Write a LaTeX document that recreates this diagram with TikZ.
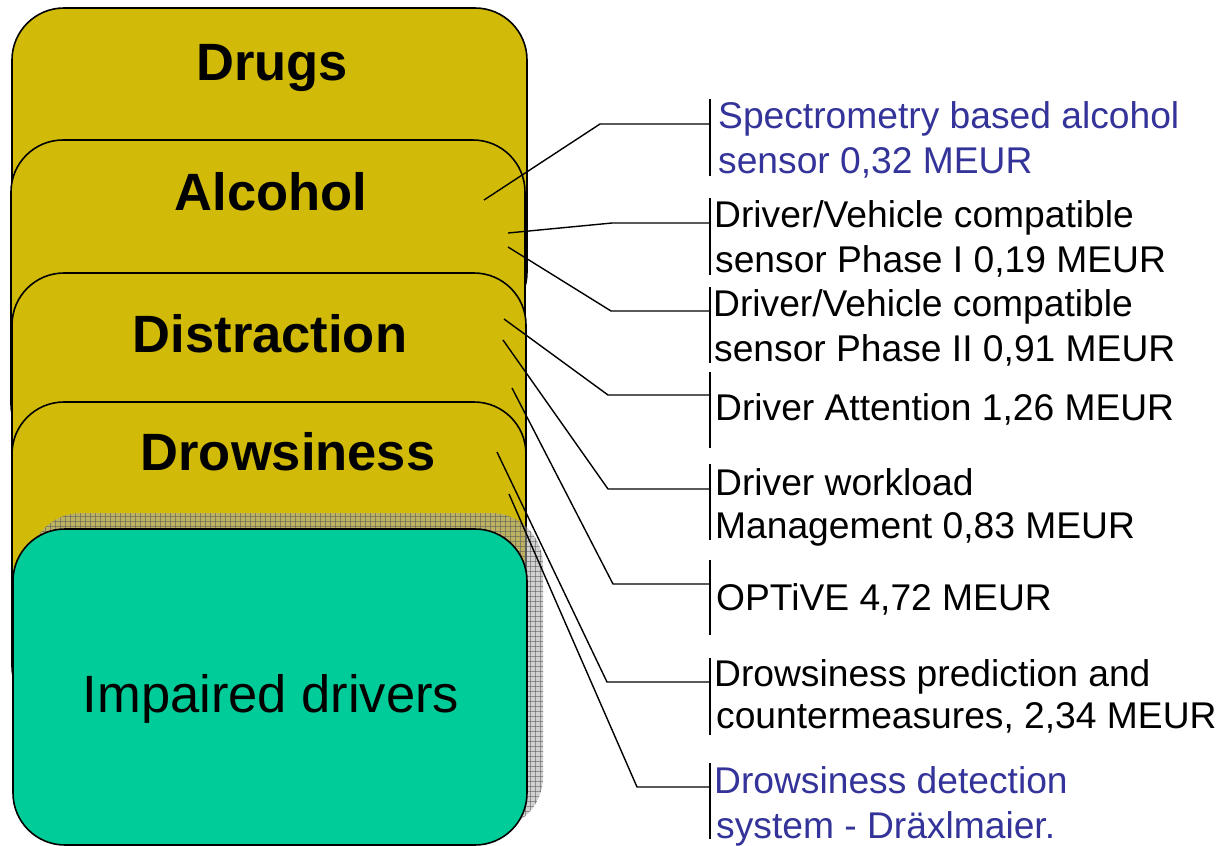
\documentclass[tikz,border=0pt]{standalone}
\usepackage{fontspec}
\setmainfont{Liberation Sans}
\usetikzlibrary{patterns}
\definecolor{boxyellow}{RGB}{210,186,8}
\definecolor{boxteal}{RGB}{0,204,153}
\definecolor{textblue}{RGB}{51,51,153}
\pgfdeclarepatternformonly{shadowgrid}{\pgfqpoint{-1pt}{-1pt}}{\pgfqpoint{6pt}{6pt}}{\pgfqpoint{5pt}{5pt}}{%
  \pgfsetlinewidth{0.8pt}%
  \pgfpathmoveto{\pgfqpoint{0pt}{0pt}}\pgfpathlineto{\pgfqpoint{5pt}{0pt}}%
  \pgfpathmoveto{\pgfqpoint{0pt}{0pt}}\pgfpathlineto{\pgfqpoint{0pt}{5pt}}%
  \pgfusepath{stroke}}
\begin{document}
\begin{tikzpicture}[x=1pt,y=-1pt,line join=round]
\tikzset{
  layerbox/.style={draw=black,line width=1.6pt,fill=boxyellow,rounded corners=52pt},
  impairedbox/.style={draw=black,line width=1.6pt,fill=boxteal,rounded corners=52pt},
  boxlabel/.style={font=\fontsize{52.5}{60}\selectfont\bfseries,anchor=base,inner sep=0pt},
  impairedlabel/.style={font=\fontsize{52.5}{60}\selectfont,anchor=base,inner sep=0pt},
  conn/.style={line width=1.4pt},
  bar/.style={line width=1.4pt},
  lab/.style={font=\fontsize{37.2}{44}\selectfont,anchor=base west,inner sep=0pt},
  bluelab/.style={lab,text=textblue}
}
\useasboundingbox (0,0) rectangle (1221,846);
% stacked layers
\draw[layerbox] (12,8) rectangle (527,324);
\draw[layerbox] (11,140) rectangle (525,456);
\draw[layerbox] (12,273) rectangle (526,589);
\draw[layerbox] (12,402) rectangle (526,718);
% shadow
\fill[gray!65,opacity=0.55,rounded corners=52pt] (29,513) rectangle (543,829);
\fill[pattern=shadowgrid,pattern color=gray!70!black,opacity=0.55,rounded corners=52pt] (29,513) rectangle (543,829);
\draw[impairedbox] (13,529) rectangle (527,845);
% box labels
\node[boxlabel] (drugs) at (272,80) {Drugs};
\node[boxlabel] (alcohol) at (271,210) {Alcohol};
\node[boxlabel] (distraction) at (270,352) {Distraction};
\node[boxlabel] (drowsiness) at (288,470) {Drowsiness};
\node[impairedlabel] (impaired) at (271,712) {Impaired drivers};
% callout anchor points
\coordinate (s1) at (484,200); \coordinate (k1) at (600,124); \coordinate (e1) at (710,124);
\coordinate (s2) at (508,233); \coordinate (k2) at (612,223); \coordinate (e2) at (710,223);
\coordinate (s3) at (508,247); \coordinate (k3) at (611,311); \coordinate (e3) at (710,311);
\coordinate (s4) at (504,319); \coordinate (k4) at (608,395); \coordinate (e4) at (710,395);
\coordinate (s5) at (503,340); \coordinate (k5) at (608,489); \coordinate (e5) at (710,489);
\coordinate (s6) at (512,388); \coordinate (k6) at (613,584); \coordinate (e6) at (710,584);
\coordinate (s7) at (497,452); \coordinate (k7) at (607,682); \coordinate (e7) at (710,682);
\coordinate (s8) at (509,494); \coordinate (k8) at (637,787); \coordinate (e8) at (710,787);
% bars
\coordinate (b1t) at (710,99);  \coordinate (b1b) at (710,176);
\coordinate (b2t) at (710,198); \coordinate (b2b) at (710,275);
\coordinate (b3t) at (710,287); \coordinate (b3b) at (710,363);
\coordinate (b4t) at (710,372); \coordinate (b4b) at (710,448);
\coordinate (b5t) at (710,464); \coordinate (b5b) at (710,540);
\coordinate (b6t) at (710,560); \coordinate (b6b) at (710,635);
\coordinate (b7t) at (710,658); \coordinate (b7b) at (710,735);
\coordinate (b8t) at (710,763); \coordinate (b8b) at (710,839);
\foreach \i in {1,...,8} {
  \draw[bar] (b\i t) -- (b\i b);
  \draw[conn] (s\i) -- (k\i) -- (e\i);
}
% labels
\node[bluelab] (l1a) at (718,128) {Spectrometry based alcohol};
\node[bluelab] (l1b) at (718,173) {sensor 0,32 MEUR};
\node[lab] (l2a) at (714,227) {Driver/Vehicle compatible};
\node[lab] (l2b) at (715,272) {sensor Phase I 0,19 MEUR};
\node[lab] (l3a) at (713,316) {Driver/Vehicle compatible};
\node[lab] (l3b) at (714,361) {sensor Phase II 0,91 MEUR};
\node[lab] (l4) at (715,420) {Driver Attention 1,26 MEUR};
\node[lab] (l5a) at (715,495) {Driver workload};
\node[lab] (l5b) at (715,538) {Management 0,83 MEUR};
\node[lab] (l6) at (716,610) {OPTiVE 4,72 MEUR};
\node[lab] (l7a) at (714,686) {Drowsiness prediction and};
\node[lab] (l7b) at (716,728) {countermeasures, 2,34 MEUR};
\node[bluelab] (l8a) at (714,793) {Drowsiness detection};
\node[bluelab] (l8b) at (716,838) {system - Dräxlmaier.};
\end{tikzpicture}
\end{document}
